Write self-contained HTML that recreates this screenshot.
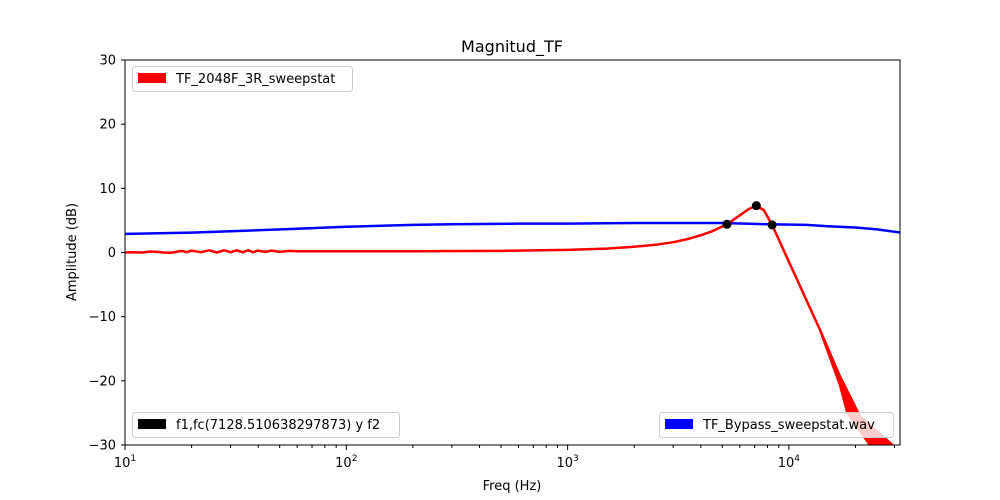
<!DOCTYPE html>
<html><head><meta charset="utf-8"><style>
html,body{margin:0;padding:0;background:#fff;overflow:hidden;width:1000px;height:500px;}
svg{display:block;}
svg text{font-family:"DejaVu Sans","Liberation Sans",sans-serif;fill:#000;}
</style></head><body>
<svg id="c" width="1000" height="500" viewBox="0 0 1000 500" xmlns="http://www.w3.org/2000/svg">
<rect width="1000" height="500" fill="#fff"/>
<text x="512" y="52" font-size="16" text-anchor="middle">Magnitud_TF</text>
<text x="512" y="490" font-size="13" text-anchor="middle">Freq (Hz)</text>
<text transform="translate(76,252) rotate(-90)" font-size="13" text-anchor="middle">Amplitude (dB)</text>
<defs><clipPath id="pc"><rect x="125" y="60" width="775" height="385"/></clipPath></defs>
<g id="plot" clip-path="url(#pc)"></g>
<g id="axes"></g>
<rect x="125" y="60" width="775" height="385" fill="none" stroke="#000" stroke-width="1"/>
<g>
<rect x="132.5" y="66.5" width="220" height="25" rx="3" fill="#fff" fill-opacity="0.8" stroke="#ccc"/>
<rect x="138" y="73" width="28" height="10" fill="red"/>
<text x="176" y="83" font-size="13">TF_2048F_3R_sweepstat</text></g>
<g>
<rect x="132.5" y="412.5" width="267" height="25" rx="3" fill="#fff" fill-opacity="0.8" stroke="#ccc"/>
<rect x="138" y="419" width="28" height="10" fill="#000"/>
<text x="176" y="429" font-size="13">f1,fc(7128.510638297873) y f2</text></g>
<g>
<rect x="659.5" y="412.5" width="234" height="25" rx="3" fill="#fff" fill-opacity="0.8" stroke="#ccc"/>
<rect x="665" y="419" width="28" height="10" fill="blue"/>
<text x="703" y="429" font-size="13">TF_Bypass_sweepstat.wav</text></g>
</svg>
<script>
const blueFreq=[10,20,30,60,100,200,300,600,1000,2000,3000,5000,8000,12000,15000,20000,25000,32000];
const blueDb=[2.9,3.1,3.3,3.7,4.0,4.3,4.4,4.5,4.5,4.6,4.6,4.6,4.4,4.3,4.1,3.9,3.6,3.1];
const redFreq=[10,11,12,13,14,15,16,17,18,19,20,22,24,26,28,30,32,34,36,38,40,43,46,50,55,60,70,100,200,500,1000,1500,2000,2500,3000,3500,4000,4500,5250,6000,6600,7128,7700,8400,13840];
const redDb=[0.0,0.05,0.0,0.15,0.1,0.0,-0.05,0.1,0.25,0.05,0.3,0.05,0.35,0.0,0.35,0.05,0.35,0.05,0.35,0.05,0.3,0.1,0.3,0.1,0.25,0.2,0.2,0.2,0.2,0.25,0.4,0.6,0.9,1.2,1.6,2.1,2.7,3.3,4.4,5.8,6.8,7.3,6.6,4.3,-12.1];
const tailHiFreq=[13840,17000,21000,29400,33000];
const tailHiDb=[-12.1,-19.3,-25.6,-30,-33];
const tailLoFreq=[13840,17000,18350,23200,26000];
const tailLoDb=[-12.1,-20.6,-24.9,-30,-35];
const ptFreq=[5250,7128,8400];
const ptDb=[4.4,7.3,4.3];
const yTicks=[-30,-20,-10,0,10,20,30];
const xDecades=[1,2,3,4];

const X=f=>125+(Math.log10(f)-1)*221.3;
const Y=d=>252.5-d*6.417;
const NS='http://www.w3.org/2000/svg';
const plot=document.getElementById('plot'),axes=document.getElementById('axes');
function mk(t,a,p){const e=document.createElementNS(NS,t);for(const k in a)e.setAttribute(k,a[k]);p.appendChild(e);return e;}
function pl(fs,ds){return fs.map((f,i)=>X(f).toFixed(1)+','+Y(ds[i]).toFixed(1));}
const bl=mk('polyline',{points:pl(blueFreq,blueDb).join(' '),fill:'none',stroke:'blue','stroke-width':2.5},plot);


const rl=mk('polyline',{points:pl(redFreq,redDb).join(' '),fill:'none',stroke:'red','stroke-width':2.5,'stroke-linejoin':'round'},plot);


const band=pl(tailHiFreq,tailHiDb).concat(pl(tailLoFreq,tailLoDb).reverse()).join(' ');
const tb=mk('polygon',{points:band,fill:'red',stroke:'red','stroke-width':2.5,'stroke-linejoin':'round'},plot);


ptFreq.forEach((f,i)=>{const c=mk('circle',{cx:X(f),cy:Y(ptDb[i]),r:4.5,fill:'#000'},plot);

});
yTicks.forEach(v=>{const y=Y(v);mk('line',{x1:121,x2:125,y1:y,y2:y,stroke:'#000'},axes);
const t=mk('text',{x:116,y:y+4.5,'font-size':13,'text-anchor':'end'},axes);t.textContent=v<0?'\u2212'+(-v):v;

});
xDecades.forEach(d=>{const x=X(Math.pow(10,d));mk('line',{x1:x,x2:x,y1:445,y2:450,stroke:'#000'},axes);
const t=mk('text',{x:x,y:467,'font-size':13,'text-anchor':'middle'},axes);
t.innerHTML='10<tspan font-size="9" dy="-6">'+d+'</tspan>';


for(let m=2;m<10;m++){const xm=X(m*Math.pow(10,d));if(xm<=900)mk('line',{x1:xm,x2:xm,y1:445,y2:448,stroke:'#000'},axes);}});
</script>
</body></html>
